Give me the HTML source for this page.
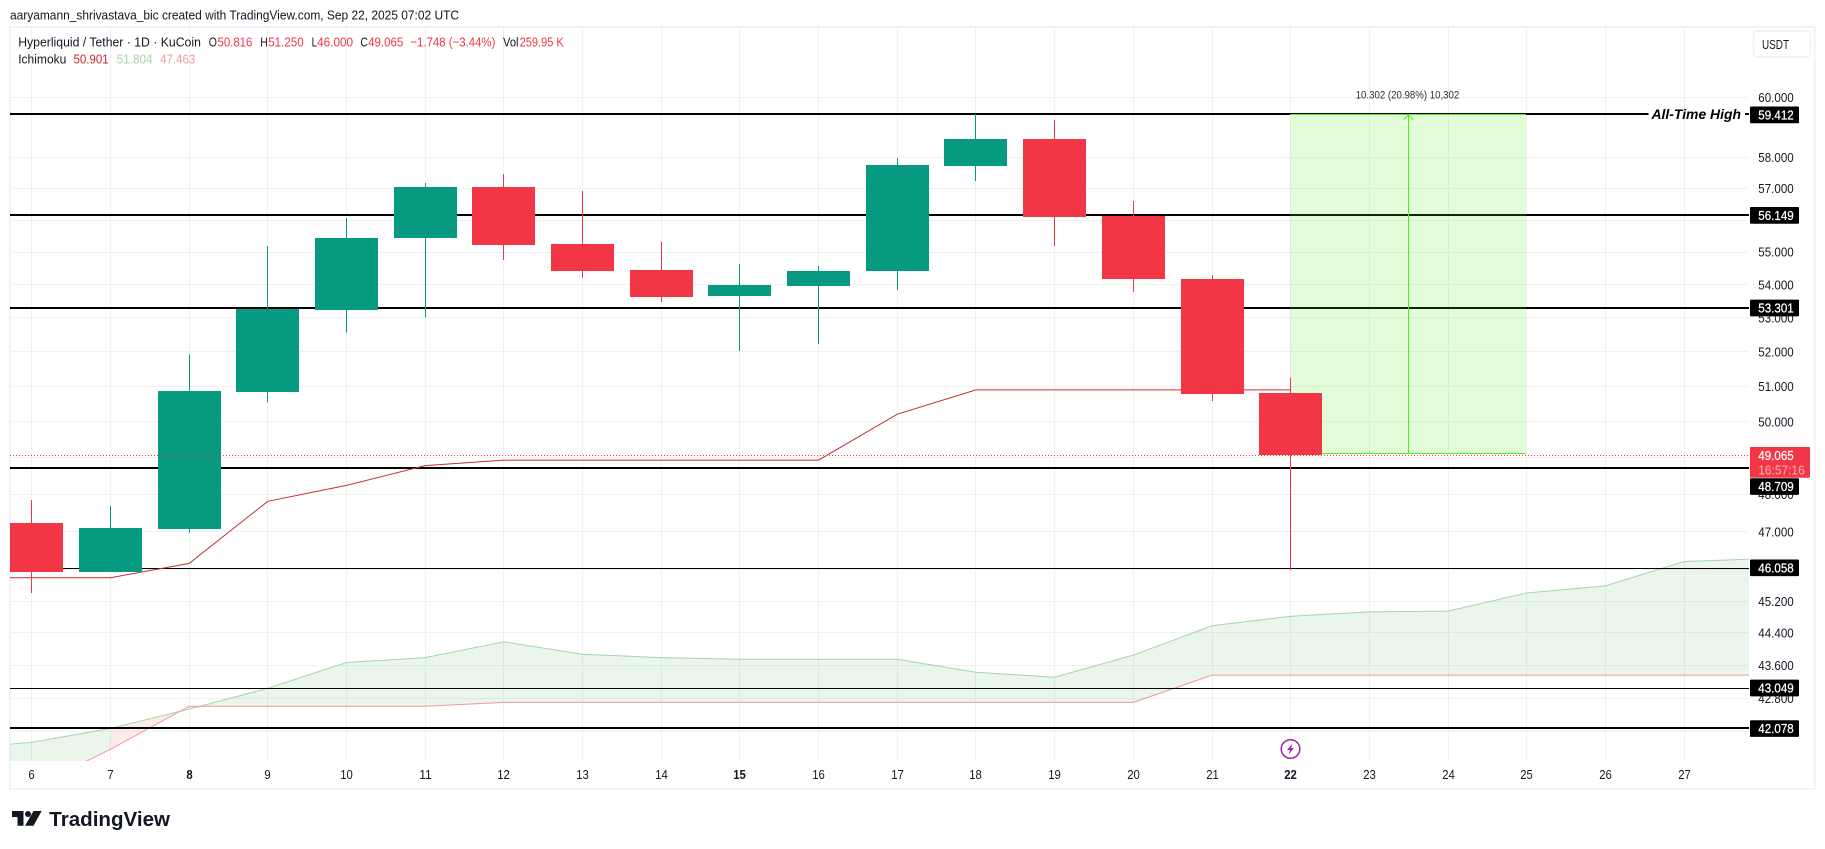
<!DOCTYPE html>
<html lang="en">
<head>
<meta charset="utf-8">
<title>Hyperliquid / Tether 1D chart</title>
<style>
html,body{margin:0;padding:0;background:#fff;width:1825px;height:849px;overflow:hidden}
svg{display:block}
text{font-family:"Liberation Sans",sans-serif;fill:#131722;font-size:13px}
.red{fill:#f23645}
</style>
</head>
<body>
<svg id="chart" xmlns="http://www.w3.org/2000/svg" width="1825" height="849" viewBox="0 0 1825 849">
  <defs>
    <clipPath id="plot-clip"><rect x="10" y="27" width="1739" height="734"/></clipPath>
  </defs>
  <rect x="0" y="0" width="1825" height="849" fill="#ffffff"/>
  <text x="10" y="19.5" textLength="449" lengthAdjust="spacingAndGlyphs">aaryamann_shrivastava_bic created with TradingView.com, Sep 22, 2025 07:02 UTC</text>
  <rect x="10" y="27" width="1804.7" height="762" fill="none" stroke="#f0f3fa" stroke-width="2"/>
  <g id="grid-layer"></g>
  <g id="plot-layer" clip-path="url(#plot-clip)"></g>
  <g id="axis-layer"></g>

  <g>
    <text x="18.2" y="46.7" textLength="182.7" lengthAdjust="spacingAndGlyphs">Hyperliquid / Tether · 1D · KuCoin</text>
    <text x="208.8" y="46.7" textLength="8.2" lengthAdjust="spacingAndGlyphs">O</text>
    <text class="red" x="217.5" y="46.7" textLength="34.8" lengthAdjust="spacingAndGlyphs">50.816</text>
    <text x="260.2" y="46.7" textLength="7.5" lengthAdjust="spacingAndGlyphs">H</text>
    <text class="red" x="268.1" y="46.7" textLength="35.6" lengthAdjust="spacingAndGlyphs">51.250</text>
    <text x="311.6" y="46.7" textLength="5.4" lengthAdjust="spacingAndGlyphs">L</text>
    <text class="red" x="317.1" y="46.7" textLength="36" lengthAdjust="spacingAndGlyphs">46.000</text>
    <text x="360.4" y="46.7" textLength="7.5" lengthAdjust="spacingAndGlyphs">C</text>
    <text class="red" x="368.1" y="46.7" textLength="35.2" lengthAdjust="spacingAndGlyphs">49.065</text>
    <text class="red" x="410.4" y="46.7" textLength="85" lengthAdjust="spacingAndGlyphs">−1.748 (−3.44%)</text>
    <text x="503" y="46.7" textLength="15.5" lengthAdjust="spacingAndGlyphs">Vol</text>
    <text class="red" x="519.6" y="46.7" textLength="44.2" lengthAdjust="spacingAndGlyphs">259.95 K</text>
    <text x="18.2" y="63.5" textLength="48.2" lengthAdjust="spacingAndGlyphs">Ichimoku</text>
    <text x="73.5" y="63.5" textLength="35.2" lengthAdjust="spacingAndGlyphs" style="fill:#d0262e">50.901</text>
    <text x="116.6" y="63.5" textLength="36" lengthAdjust="spacingAndGlyphs" style="fill:#a5d6a7">51.804</text>
    <text x="160.1" y="63.5" textLength="35.2" lengthAdjust="spacingAndGlyphs" style="fill:#ef9a9a">47.463</text>
  </g>

  <g>
    <rect x="1753.5" y="31" width="57" height="26" rx="4" fill="#fff" stroke="#f0f3fa" stroke-width="2"/>
    <text x="1762" y="48.8" textLength="27" lengthAdjust="spacingAndGlyphs">USDT</text>
  </g>

  <g>
    <polygon points="12,811 23.5,811 23.5,825.7 17.5,825.7 17.5,817 12,817" fill="#131722"/>
    <circle cx="28" cy="814" r="3" fill="#131722"/>
    <polygon points="33.5,811 41.7,811 33.5,825.7 25,825.7" fill="#131722"/>
    <text x="49.3" y="826" textLength="120.7" lengthAdjust="spacingAndGlyphs" style="font-size:20px;font-weight:700">TradingView</text>
  </g>
</svg>

<script>
// Data
const candleDays = [6,7,8,9,10,11,12,13,14,15,16,17,18,19,20,21,22];
const opens  = [47.23,45.95,47.07,50.84,53.25,55.44,57.05,55.25,54.45,53.66,53.96,54.42,57.73,58.61,56.14,54.17,50.816];
const highs  = [47.84,47.68,51.93,55.19,56.06,57.18,57.47,56.92,55.31,54.63,54.57,57.99,59.44,59.24,56.60,54.30,51.25];
const lows   = [45.41,45.95,46.97,50.54,52.57,53.01,54.75,54.21,53.48,52.03,52.23,53.84,57.24,55.19,53.78,50.59,46.00];
const closes = [45.95,47.10,50.87,53.28,55.44,57.05,55.22,54.42,53.63,53.99,54.42,57.76,58.61,56.09,54.17,50.78,49.065];

const conversionDays = [5,6,7,8,9,10,11,12,13,14,15,16,17,18,19,20,21,22];
const conversionLine = [45.80,45.80,45.80,46.17,47.81,48.24,48.78,48.93,48.93,48.93,48.93,48.93,50.21,50.90,50.90,50.90,50.90,50.90];

const cloudDays = [5,6,7,8,9,10,11,12,13,14,15,16,17,18,19,20,21,22,23,24,25,26,27,28];
const spanA = [41.60,41.75,42.08,42.54,43.04,43.67,43.79,44.18,43.87,43.79,43.75,43.75,43.75,43.43,43.31,43.85,44.58,44.82,44.93,44.95,45.41,45.59,46.22,46.29];
const spanB = [39.80,40.69,41.59,42.61,42.61,42.61,42.61,42.70,42.70,42.70,42.70,42.70,42.70,42.70,42.70,42.70,43.36,43.36,43.36,43.36,43.36,43.36,43.36,43.36];

const thickLevels = [59.412,56.149,53.301,48.709,42.078];
const thinLevels = [46.058,43.049];
const lastPrice = 49.065;
const countdownText = '16:57:16';
const measureFrom = 49.11;
const measureTo = 59.412;
const measureStartDay = 22;
const measureEndDay = 25;
const measureText = '10.302 (20.98%) 10,302';
const athLevel = 59.412;
const athText = 'All-Time High';

const gridPrices = [60,58,57,56,55,54,53,52,51,50,49,48,47,46,45.2,44.4,43.6,42.8,42];
const tickPrices = [60,58,57,55,54,53,52,51,50,48,47,45.2,44.4,43.6,42.8];
const tickLabels = ['60.000','58.000','57.000','55.000','54.000','53.000','52.000','51.000','50.000','48.000','47.000','45.200','44.400','43.600','42.800'];
const timeTicks = [6,7,8,9,10,11,12,13,14,15,16,17,18,19,20,21,22,23,24,25,26,27];
const timeLabels = ['6','7','8','9','10','11','12','13','14','15','16','17','18','19','20','21','22','23','24','25','26','27'];
const boldTimeTicks = [8,15,22];
const eventDay = 22;

// Axis functions
const NS = 'http://www.w3.org/2000/svg';
const PLOT_L = 10, PLOT_R = 1749, PLOT_T = 27, PLOT_B = 761;
function xOf(day){ return 31.8 + 78.68 * (day - 6); }
function yOf(price){ return 97.3 + 1779 * Math.log(60 / price); }
function px(day){ return Math.floor(xOf(day)); }

function make(tag, attrs, parent, text){
  const node = document.createElementNS(NS, tag);
  for (const k in attrs) node.setAttribute(k, attrs[k]);
  if (text !== undefined) node.textContent = text;
  parent.appendChild(node);
  return node;
}
function pointsOf(days, values){
  return days.map((d, i) => xOf(d).toFixed(1) + ',' + yOf(values[i]).toFixed(1)).join(' ');
}

const gridLayer = document.getElementById('grid-layer');
const plotLayer = document.getElementById('plot-layer');
const axisLayer = document.getElementById('axis-layer');

// Grid
gridPrices.forEach(p => {
  const yy = Math.floor(yOf(p)) + 0.5;
  const gl = make('line', {x1: PLOT_L, x2: PLOT_R, y1: yy, y2: yy, stroke: '#f0f1f3', 'stroke-width': 1}, gridLayer);
  
  
});
timeTicks.forEach(d => {
  const xx = px(d) + 0.5;
  const gl = make('line', {x1: xx, x2: xx, y1: PLOT_T, y2: PLOT_B, stroke: '#eff0f2', 'stroke-width': 1}, gridLayer);
  
  
});

// Cloud fill: each segment is coloured by its closing bar
for (let i = 0; i < cloudDays.length - 1; i++) {
  const a0 = yOf(spanA[i]), a1 = yOf(spanA[i + 1]), b0 = yOf(spanB[i]), b1 = yOf(spanB[i + 1]);
  const x0 = xOf(cloudDays[i]), x1 = xOf(cloudDays[i + 1]);
  const bearish = spanB[i + 1] > spanA[i + 1];
  const seg = make('polygon', {
    points: x0 + ',' + a0 + ' ' + x1 + ',' + a1 + ' ' + x1 + ',' + b1 + ' ' + x0 + ',' + b0,
    fill: bearish ? 'rgba(244,67,54,0.1)' : 'rgba(67,160,71,0.11)'
  }, plotLayer);
  
  
}
const spanALine = make('polyline', {points: pointsOf(cloudDays, spanA), fill: 'none', stroke: '#a5d6a7', 'stroke-width': 1}, plotLayer);


const spanBLine = make('polyline', {points: pointsOf(cloudDays, spanB), fill: 'none', stroke: '#ef9a9a', 'stroke-width': 1}, plotLayer);



// Horizontal levels
thickLevels.forEach(v => {
  const yy = Math.round(yOf(v) - 0.4);
  const ln = make('rect', {x: PLOT_L, y: yy - 1, width: PLOT_R - PLOT_L, height: 2, fill: '#000'}, plotLayer);
  
  
});
thinLevels.forEach(v => {
  const yy = Math.round(yOf(v));
  const ln = make('rect', {x: PLOT_L, y: yy, width: PLOT_R - PLOT_L, height: 1, fill: '#000'}, plotLayer);
  
  
});

// Conversion line
const convLine = make('polyline', {points: pointsOf(conversionDays, conversionLine), fill: 'none', stroke: '#c62d33', 'stroke-width': 1}, plotLayer);



// Measure tool
const mx0 = px(measureStartDay), mx1 = px(measureEndDay), myTop = yOf(measureTo), myBot = yOf(measureFrom);
const mRect = make('rect', {x: mx0, y: myTop, width: mx1 - mx0, height: myBot - myTop, fill: 'rgba(80,240,30,0.16)'}, plotLayer);


const mTop = make('line', {x1: mx0, x2: mx1, y1: Math.round(myTop) - 0.5, y2: Math.round(myTop) - 0.5, stroke: '#4cee20', 'stroke-width': 1}, plotLayer);


const mBot = make('line', {x1: mx0, x2: mx1, y1: Math.floor(myBot) + 0.5, y2: Math.floor(myBot) + 0.5, stroke: '#4cee20', 'stroke-width': 1}, plotLayer);


const arrowX = Math.floor(xOf((measureStartDay + measureEndDay) / 2)) + 0.5;
const mArrow = make('line', {x1: arrowX, x2: arrowX, y1: myBot, y2: myTop, stroke: '#4cee20', 'stroke-width': 1}, plotLayer);


const mHead = make('polyline', {points: (arrowX - 5) + ',' + (myTop + 5) + ' ' + arrowX + ',' + myTop + ' ' + (arrowX + 5) + ',' + (myTop + 5), fill: 'none', stroke: '#4cee20', 'stroke-width': 1}, plotLayer);


const mLabel = make('text', {x: (mx0 + mx1) / 2 - 0.5, y: 98.5, 'text-anchor': 'middle', textLength: 103.6, lengthAdjust: 'spacingAndGlyphs', style: 'font-size:11px;fill:#2a2e39'}, plotLayer, measureText);



// Candles
candleDays.forEach((d, i) => {
  const up = closes[i] >= opens[i];
  const color = up ? '#089981' : '#f23645';
  const cx = px(d);
  const yHigh = yOf(highs[i]), yLow = yOf(lows[i]);
  const yTop = Math.round(yOf(Math.max(opens[i], closes[i])));
  const yBot = Math.round(yOf(Math.min(opens[i], closes[i])));
  const wick = make('rect', {x: cx, y: yHigh, width: 1, height: yLow - yHigh, fill: color, 'shape-rendering': 'crispEdges'}, plotLayer);
  
  
  const body = make('rect', {x: cx - 31, y: yTop, width: 63, height: yBot - yTop, fill: color, 'shape-rendering': 'crispEdges'}, plotLayer);
  
  
});

// Last price dotted line
const lastY = Math.floor(yOf(lastPrice)) + 0.5;
const lastLine = make('line', {x1: PLOT_L, x2: PLOT_R, y1: lastY, y2: lastY, stroke: '#f23645', 'stroke-width': 1, 'stroke-dasharray': '1 2'}, plotLayer);



// All-time-high annotation
const athY = Math.round(yOf(athLevel) - 0.4);
const athGap = make('rect', {x: 1648.5, y: athY - 2, width: 96.5, height: 4, fill: '#fff'}, plotLayer);


const athLabel = make('text', {x: 1651.5, y: athY + 5, textLength: 89.5, lengthAdjust: 'spacingAndGlyphs', style: 'font-size:14px;font-weight:700;font-style:italic;fill:#000'}, plotLayer, athText);



// Price axis ticks
tickPrices.forEach((p, i) => {
  const t = make('text', {x: 1758.3, y: yOf(p) + 4.6, textLength: 35.4, lengthAdjust: 'spacingAndGlyphs'}, axisLayer, tickLabels[i]);
  
  
});

// Last-price badge
const badgeTop = Math.round(yOf(lastPrice) - 8.3);
const badgeH = 30.7;
const badge = make('rect', {x: 1750, y: badgeTop, width: 60, height: badgeH, rx: 1, fill: '#f23645'}, axisLayer);


const badgeValue = make('text', {x: 1758.3, y: badgeTop + 13, textLength: 35.4, lengthAdjust: 'spacingAndGlyphs', style: 'fill:#fff;stroke:#fff;stroke-width:.25'}, axisLayer, lastPrice.toFixed(3));


const badgeTimer = make('text', {x: 1758.3, y: badgeTop + 27.5, textLength: 46.4, lengthAdjust: 'spacingAndGlyphs', style: 'fill:#fbb4ba'}, axisLayer, countdownText);



// Level badges, pushed below the price badge if they would overlap it
thickLevels.concat(thinLevels).forEach(v => {
  const c = yOf(v);
  let top = c - 8.3;
  if (top < badgeTop + badgeH && top + 16.7 > badgeTop) top = badgeTop + badgeH + 0.5;
  const box = make('rect', {x: 1750, y: top, width: 49, height: 16.7, rx: 1, fill: '#000'}, axisLayer);
  
  
  const lbl = make('text', {x: 1758.3, y: top + 13, textLength: 35.4, lengthAdjust: 'spacingAndGlyphs', style: 'fill:#fff;stroke:#fff;stroke-width:.25'}, axisLayer, v.toFixed(3));
  
  
});

// Time axis ticks
timeTicks.forEach((d, i) => {
  const s = timeLabels[i];
  const bold = boldTimeTicks.indexOf(d) >= 0;
  const t = make('text', {x: px(d) + 0.5, y: 779, 'text-anchor': 'middle', textLength: s.length * 6.3, lengthAdjust: 'spacingAndGlyphs', style: bold ? 'font-weight:700' : ''}, axisLayer, s);
  
  
});

// Event marker
const evX = px(eventDay) + 0.5;
const evG = make('g', {}, axisLayer);


const evC = make('circle', {cx: evX, cy: 749, r: 9.3, fill: '#fff', stroke: '#9c27b0', 'stroke-width': 1.5}, evG);


const evB = make('polygon', {points: [[2,-5.5],[-3.5,1],[-0.5,1],[-2,5.5],[3.5,-1],[0.5,-1]].map(p => (evX + p[0]) + ',' + (749 + p[1])).join(' '), fill: '#9c27b0'}, evG);


</script>
</body>
</html>
